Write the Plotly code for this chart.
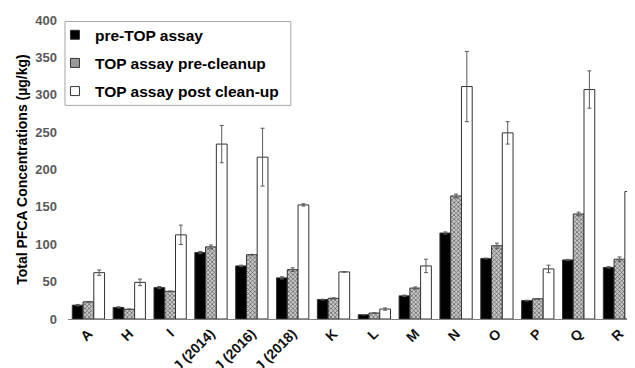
import plotly.graph_objects as go

categories = ["A", "H", "I", "J (2014)", "J (2016)", "J (2018)", "K", "L", "M", "N", "O", "P", "Q", "R"]

pre_top = [18.5, 15.5, 42, 89, 71, 55, 26, 5.7, 31, 115, 81, 24.6, 79, 69]
pre_top_err = [1, 0.8, 1.5, 1.5, 1, 1.5, 0.5, 0.3, 1, 1.5, 0.5, 0.5, 0.8, 1]

top_pre_clean = [23, 13, 37, 96.5, 86, 66, 27.6, 8, 41.4, 164.6, 98, 27, 140.5, 80]
top_pre_clean_err = [0.5, 0.5, 0.5, 2.5, 0.5, 2.5, 0.8, 0.3, 1.5, 2.5, 3.5, 0.5, 2.5, 3]

top_post_clean = [62, 49, 112.6, 234, 216.5, 152.6, 63, 13.3, 71, 311, 249, 67, 307, 170.5]
top_post_clean_err = [3.6, 4.4, 13, 25, 38.7, 1.5, 0.5, 1.5, 9, 47, 15, 5, 25, 17]

series_names = ["pre-TOP assay", "TOP assay pre-cleanup", "TOP assay post clean-up"]

err_style = dict(type="data", color="#5a5a5a", thickness=1, width=2)
outline = dict(color="#333333", width=1)

fig = go.Figure()
fig.add_trace(go.Bar(
    name=series_names[0], x=categories, y=pre_top, showlegend=False,
    error_y=dict(array=pre_top_err, **err_style),
    marker=dict(color="#000000", line=outline),
))
fig.add_trace(go.Bar(
    name=series_names[1], x=categories, y=top_pre_clean, showlegend=False,
    error_y=dict(array=top_pre_clean_err, **err_style),
    marker=dict(color="#9a9a9a", line=outline,
                pattern=dict(shape="x", size=3, solidity=0.4,
                             fgcolor="#555555", bgcolor="#c8c8c8", fillmode="replace")),
))
fig.add_trace(go.Bar(
    name=series_names[2], x=categories, y=top_post_clean, showlegend=False,
    error_y=dict(array=top_post_clean_err, **err_style),
    marker=dict(color="#ffffff", line=outline),
))

# legend-only entries with small square swatches
legend_fills = ["#000000", "#9a9a9a", "#ffffff"]
for i, (nm, fc) in enumerate(zip(series_names, legend_fills)):
    fig.add_trace(go.Scatter(
        x=[None], y=[None], mode="markers", name=nm, legendgroup=f"g{i}",
        marker=dict(symbol="square", size=9, color=fc, line=dict(color="#333333", width=1)),
    ))

# page body has an 8px margin, so the figure is offset by 8px (left, top)
fig.update_layout(
    width=627, height=360,
    margin=dict(l=60, r=0, t=12, b=49),
    paper_bgcolor="white", plot_bgcolor="white",
    barmode="group", bargap=0.21, bargroupgap=0,
    font=dict(family="Liberation Sans, Arial, sans-serif", color="#000000"),
    showlegend=True,
    legend=dict(
        x=-0.023, y=1.006, xanchor="left", yanchor="top",
        bgcolor="rgba(0,0,0,0)", borderwidth=0,
        font=dict(size=15.5, color="#000000", family="Liberation Sans, Arial, sans-serif", weight="bold"),
        tracegroupgap=5, itemwidth=30,
    ),
    shapes=[dict(type="rect", xref="paper", yref="paper",
                 x0=-0.0053, x1=0.393, y0=0.7145, y1=0.995,
                 line=dict(color="#a6a6a6", width=1), fillcolor="rgba(0,0,0,0)", layer="below")],
)
fig.update_xaxes(
    range=[-0.5, 13.38],
    tickangle=-45,
    tickfont=dict(size=14, color="#111111", weight="bold"),
    showline=True, linecolor="#808080", linewidth=1,
    ticks="", showgrid=False, automargin=False,
)
fig.update_yaxes(
    range=[0, 400], dtick=50,
    tickfont=dict(size=13, color="#595959", weight="bold"),
    showline=False, showgrid=False, ticks="", ticklabelstandoff=10,
    zeroline=False, automargin=False,
    title=dict(text="Total PFCA Concentrations (µg/kg)",
               font=dict(size=14, color="#000000", weight="bold"), standoff=4),
)

fig.write_html("out.html")
